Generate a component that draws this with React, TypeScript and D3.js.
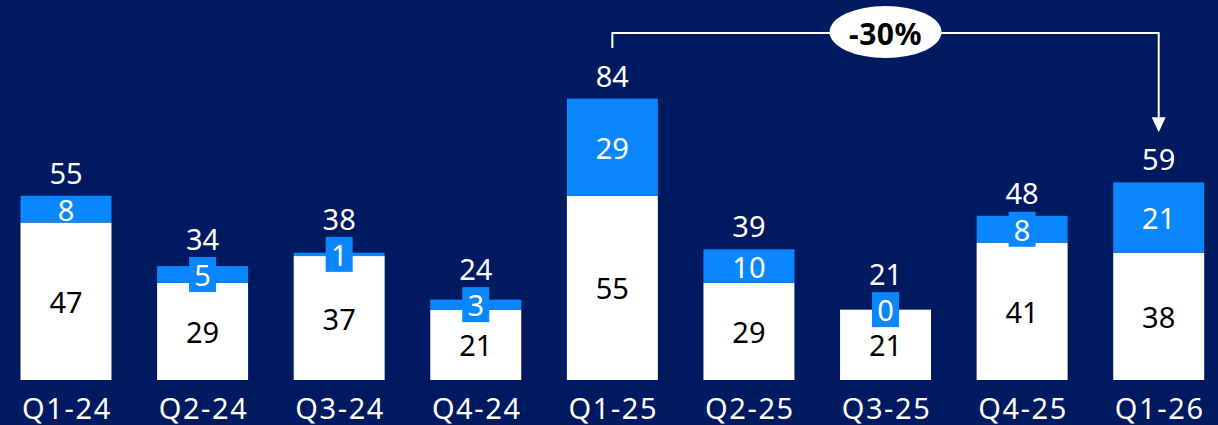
import React from "react";
import * as d3 from "d3";

const categories = ["Q1-24", "Q2-24", "Q3-24", "Q4-24", "Q1-25", "Q2-25", "Q3-25", "Q4-25", "Q1-26"];
const baseValues = [47, 29, 37, 21, 55, 29, 21, 41, 38];
const topValues = [8, 5, 1, 3, 29, 10, 0, 8, 21];
const totalLabels = [55, 34, 38, 24, 84, 39, 21, 48, 59];
const boxedCategories = ["Q2-24", "Q3-24", "Q4-24", "Q3-25", "Q4-25"];
const changeLabel = "-30%";
const changeFrom = "Q1-25";
const changeTo = "Q1-26";

const W = 1218;
const H = 425;
const BG = "#001A61";
const BLUE = "#0A86FF";
const FONT = "'Noto Sans', 'Open Sans', sans-serif";

export default function App() {
  const x = d3
    .scaleBand<string>()
    .domain(categories)
    .range([-2.3, 1227])
    .paddingInner(0.334)
    .paddingOuter(0.167);
  const y = d3.scaleLinear().domain([0, 100]).range([380, 45]);
  const bw = x.bandwidth();
  const boxW = 27;
  const boxH = 35;

  const x1 = (x(changeFrom) as number) + bw / 2;
  const x2 = (x(changeTo) as number) + bw / 2;
  const lineY = 33;
  const iTo = categories.indexOf(changeTo);
  const arrowTip = y(totalLabels[iTo]) - 50;

  return (
    <svg
      width={W}
      height={H}
      style={{ position: "absolute", left: 0, top: 0, background: BG, fontFamily: FONT }}
    >
      <rect x={0} y={0} width={W} height={H} fill={BG} />
      {categories.map((c, i) => {
        const x0 = x(c) as number;
        const cx = x0 + bw / 2;
        const yBase = y(baseValues[i]);
        const yTop = y(baseValues[i] + topValues[i]);
        const segMid = (yBase + yTop) / 2;
        const boxed = boxedCategories.includes(c);
        const boxTop = segMid - boxH / 2;
        const labelY = boxed ? Math.min(yTop - 12, boxTop - 7) : yTop - 12;
        return (
          <g key={c}>
            <rect x={x0} y={yBase} width={bw} height={y(0) - yBase} fill="#ffffff" />
            <rect x={x0} y={yTop} width={bw} height={yBase - yTop} fill={BLUE} />
            {boxed && <rect x={cx - boxW / 2} y={boxTop} width={boxW} height={boxH} fill={BLUE} />}
            <text
              x={cx}
              y={(yBase + y(0)) / 2}
              textAnchor="middle"
              dominantBaseline="central"
              fontSize={29}
              fill="#000000"
            >
              {baseValues[i]}
            </text>
            <text
              x={cx}
              y={segMid}
              textAnchor="middle"
              dominantBaseline="central"
              fontSize={29}
              fill="#ffffff"
            >
              {topValues[i]}
            </text>
            <text x={cx} y={labelY} textAnchor="middle" fontSize={29} fill="#ffffff">
              {totalLabels[i]}
            </text>
            <text
              x={cx + 1}
              y={419}
              textAnchor="middle"
              fontSize={29}
              letterSpacing={1.6}
              fill="#ffffff"
            >
              {c}
            </text>
          </g>
        );
      })}
      <path
        d={`M${x1},48 V${lineY} H${x2} V${arrowTip - 14}`}
        fill="none"
        stroke="#ffffff"
        strokeWidth={2}
      />
      <path d={`M${x2 - 7},${arrowTip - 15} L${x2 + 7},${arrowTip - 15} L${x2},${arrowTip} Z`} fill="#ffffff" />
      <ellipse cx={(x1 + x2) / 2} cy={32} rx={56} ry={26} fill="#ffffff" />
      <text
        x={(x1 + x2) / 2}
        y={33}
        textAnchor="middle"
        dominantBaseline="central"
        fontSize={30}
        fontWeight="bold"
        letterSpacing={0.5}
        fill="#000000"
      >
        {changeLabel}
      </text>
    </svg>
  );
}
